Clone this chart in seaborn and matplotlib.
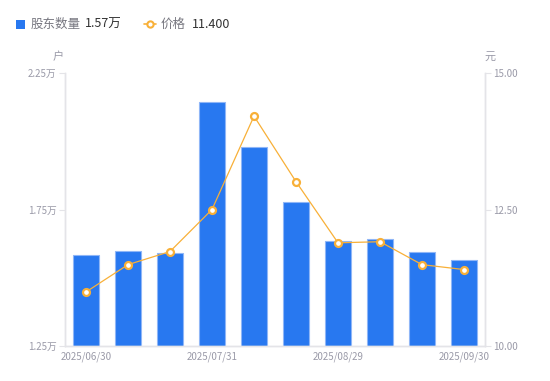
import matplotlib
matplotlib.use("Agg")
import matplotlib.pyplot as plt
import seaborn as sns
import pandas as pd
from matplotlib.lines import Line2D

dates = ["2025/06/30", "2025/07/10", "2025/07/20", "2025/07/31", "2025/08/10",
         "2025/08/20", "2025/08/29", "2025/09/10", "2025/09/20", "2025/09/30"]
holders = [1.585, 1.599, 1.592, 2.143, 1.978, 1.779, 1.636, 1.643, 1.596, 1.566]
prices = [10.99, 11.49, 11.73, 12.50, 14.21, 13.01, 11.89, 11.91, 11.49, 11.40]
shown_dates = ["2025/06/30", "2025/07/31", "2025/08/29", "2025/09/30"]
left_ticks = [1.25, 1.75, 2.25]
right_ticks = [10.0, 12.5, 15.0]

sns.set_theme(style="white")
plt.rcParams['font.family'] = ['Noto Sans CJK SC', 'DejaVu Sans']

BLUE = "#2878F0"
ORANGE = "#F8B038"
GRAY = "#9a9aa8"
SPINE = "#e4e4e8"

df = pd.DataFrame({"date": dates, "holders": holders, "price": prices,
                   "pos": list(range(len(dates)))})

fig = plt.figure(figsize=(5.5, 3.81), dpi=100)
ax = fig.add_axes([65/550, 35/381, 420/550, 273/381])

sns.barplot(data=df, x="date", y="holders", color=BLUE, width=0.6,
            edgecolor="#8fb6f7", linewidth=0.8, saturation=1, ax=ax)
ax.set_ylim(left_ticks[0], left_ticks[-1])
ax.set_xlim(-0.5, len(dates) - 0.5)
ax.set_yticks(left_ticks)
ax.set_yticklabels([f"{v:.2f}万" for v in left_ticks])
idx = [dates.index(d) for d in shown_dates]
ax.set_xticks(idx)
ax.set_xticklabels(shown_dates)
ax.set_xlabel("")
ax.set_ylabel("")

ax2 = ax.twinx()
sns.lineplot(data=df, x="pos", y="price", color=ORANGE, linewidth=0.9,
             marker="o", markersize=5, markerfacecolor="white",
             markeredgecolor=ORANGE, markeredgewidth=1.6, ax=ax2)
ax2.set_ylim(right_ticks[0], right_ticks[-1])
ax2.set_yticks(right_ticks)
ax2.set_yticklabels([f"{v:.2f}" for v in right_ticks])
ax2.set_xlim(-0.5, len(dates) - 0.5)
ax2.set_xlabel("")
ax2.set_ylabel("")

for a in (ax, ax2):
    for s in a.spines.values():
        s.set_color(SPINE)
        s.set_linewidth(1.0)
    a.spines["top"].set_visible(False)
    a.tick_params(colors=GRAY, labelsize=7, length=0, pad=4)
ax.tick_params(axis="y", left=True, length=4, width=0.8, color=SPINE, pad=2)
ax2.tick_params(axis="y", right=True, length=4, width=0.8, color=SPINE, pad=2)
ax.tick_params(axis="x", pad=4)

# units
fig.text(58/550, 1 - 57/381, "户", color=GRAY, fontsize=8, ha="center", va="center")
fig.text(490/550, 1 - 57/381, "元", color=GRAY, fontsize=8, ha="center", va="center")

# legend-like header
y = 1 - 24/381
fig.patches.append(plt.Rectangle((16/550, y - 4.5/381), 9/550, 9/381,
                                 transform=fig.transFigure, color=BLUE, lw=0))
fig.text(31/550, y, "股东数量", color="#777780", fontsize=9, ha="left", va="center")
fig.text(85/550, y, "1.57万", color="#333333", fontsize=9, ha="left", va="center")
fig.lines.append(Line2D([144/550, 156/550], [y, y], transform=fig.transFigure,
                        color=ORANGE, lw=1.2, marker="o", markevery=[0],
                        markersize=0))
fig.lines.append(Line2D([150/550], [y], transform=fig.transFigure, color=ORANGE,
                        marker="o", markersize=4.5, markerfacecolor="white",
                        markeredgecolor=ORANGE, markeredgewidth=1.5, lw=0))
fig.text(161/550, y, "价格", color="#777780", fontsize=9, ha="left", va="center")
fig.text(192/550, y, "11.400", color="#333333", fontsize=9, ha="left", va="center")

fig.savefig("out.png", dpi=100)
